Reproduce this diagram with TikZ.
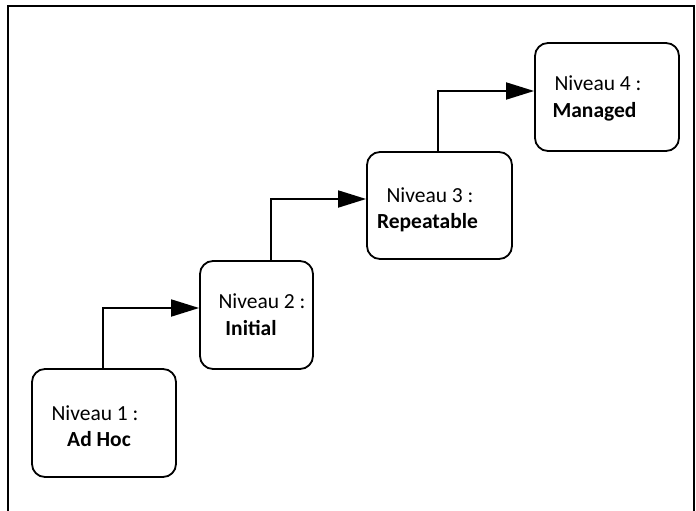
\documentclass[tikz,border=0pt]{standalone}
\usepackage{fontspec}
\setmainfont{Carlito}
\usetikzlibrary{arrows.meta}
\begin{document}
\begin{tikzpicture}[x=1pt,y=-1pt,
  box/.style={draw, line width=1.8pt, rounded corners=13pt, inner sep=0pt},
  lbl/.style={inner sep=0pt, font=\fontsize{21.5}{25}\selectfont},
  bold/.style={inner sep=0pt, font=\fontsize{21.5}{25}\selectfont\bfseries},
  arr/.style={line width=1.8pt, -{Triangle[length=28pt,width=17pt]}},
  frame/.style={line width=2pt}]
\useasboundingbox (0,0) rectangle (696,511);
\draw[frame] (7.5,511) -- (7.5,6.5) -- (694,6.5) -- (694,511);
\node[box, minimum width=144pt, minimum height=108pt] (b1) at (104,423) {};
\node[box, minimum width=113pt, minimum height=108pt] (b2) at (256.5,315) {};
\node[box, minimum width=145pt, minimum height=107pt] (b3) at (439.5,205.5) {};
\node[box, minimum width=144pt, minimum height=108pt] (b4) at (607,97) {};
\node[lbl] (t1) at (95,413) {Niveau 1 :};
\node[bold] (u1) at (99,439) {Ad Hoc};
\node[lbl] (t2) at (262,301) {Niveau 2 :};
\node[bold] (u2) at (251,328) {Initial};
\node[lbl] (t3) at (430,195) {Niveau 3 :};
\node[bold] (u3) at (427.5,223) {Repeatable};
\node[lbl] (t4) at (598,83) {Niveau 4 :};
\node[bold] (u4) at (594.5,112) {Managed};
\coordinate (c1) at (103,308);
\coordinate (c2) at (271,199);
\coordinate (c3) at (438,91);
\draw[arr] (c1 |- b1.north) -- (c1) -- (c1 -| b2.west);
\draw[arr] (c2 |- b2.north) -- (c2) -- (c2 -| b3.west);
\draw[arr] (c3 |- b3.north) -- (c3) -- (c3 -| b4.west);
\end{tikzpicture}
\end{document}
